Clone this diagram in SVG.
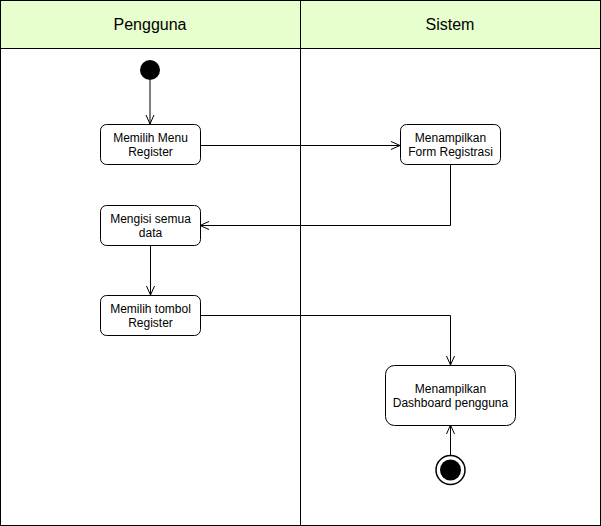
<svg xmlns="http://www.w3.org/2000/svg" width="601" height="526" viewBox="0 0 601 526">
<style>
.lane{fill:none;stroke:#000;stroke-width:1}
.hdr{fill:#e6ffcc;stroke:#000;stroke-width:1}
.ht{font-family:"Liberation Sans",Arial,sans-serif;font-size:16px;fill:#000;text-anchor:middle}
.box{fill:#fff;stroke:#000;stroke-width:1}
.t{font-family:"Liberation Sans",Arial,sans-serif;font-size:12px;fill:#000;text-anchor:middle}
.c{fill:none;stroke:#000;stroke-width:1}
</style>
<defs>
<marker id="open" viewBox="0 0 10 10" refX="10" refY="5" markerWidth="10" markerHeight="10" markerUnits="userSpaceOnUse" orient="auto">
<path d="M1,1 L10,5 L1,9" fill="none" stroke="#000" stroke-width="1"/>
</marker>
</defs>
<g id="lanes">
<rect class="hdr" x="0.5" y="0.5" width="300" height="48"/>
<rect class="hdr" x="300.5" y="0.5" width="300" height="48"/>
<rect class="lane" x="0.5" y="48.5" width="300" height="477"/>
<rect class="lane" x="300.5" y="48.5" width="300" height="477"/>
<text class="ht" x="150" y="30">Pengguna</text>
<text class="ht" x="450" y="30">Sistem</text>
</g>
<g id="connectors">
<path class="c" d="M150,80 L150,124" marker-end="url(#open)"/>
<path class="c" d="M200,145.5 L400,145.5" marker-end="url(#open)"/>
<path class="c" d="M450.5,165 L450.5,225.5 L200,225.5" marker-end="url(#open)"/>
<path class="c" d="M150.5,245 L150.5,295" marker-end="url(#open)"/>
<path class="c" d="M200,315.5 L450.5,315.5 L450.5,365" marker-end="url(#open)"/>
<path class="c" d="M450.5,455 L450.5,425" marker-end="url(#open)"/>
</g>
<g id="start"><circle cx="150" cy="70" r="10" fill="#000"/></g>
<g id="n1"><rect class="box" x="100.5" y="124.5" width="100" height="40" rx="6"/><text class="t" x="150.5" y="142">Memilih Menu</text><text class="t" x="150.5" y="156">Register</text></g>
<g id="n2"><rect class="box" x="400.5" y="124.5" width="100" height="40" rx="6"/><text class="t" x="450.5" y="142">Menampilkan</text><text class="t" x="450.5" y="156">Form Registrasi</text></g>
<g id="n3"><rect class="box" x="100.5" y="205.5" width="100" height="40" rx="6"/><text class="t" x="150.5" y="223">Mengisi semua</text><text class="t" x="150.5" y="237">data</text></g>
<g id="n4"><rect class="box" x="100.5" y="295.5" width="100" height="40" rx="6"/><text class="t" x="150.5" y="313">Memilih tombol</text><text class="t" x="150.5" y="327">Register</text></g>
<g id="n5"><rect class="box" x="385.5" y="365.5" width="130" height="60" rx="9"/><text class="t" x="450.5" y="393">Menampilkan</text><text class="t" x="450.5" y="407">Dashboard pengguna</text></g>
<g id="end"><circle cx="450.5" cy="470" r="14.5" fill="#fff" stroke="#000" stroke-width="1.5"/><circle cx="450.5" cy="470" r="10.5" fill="#000"/></g>
</svg>
